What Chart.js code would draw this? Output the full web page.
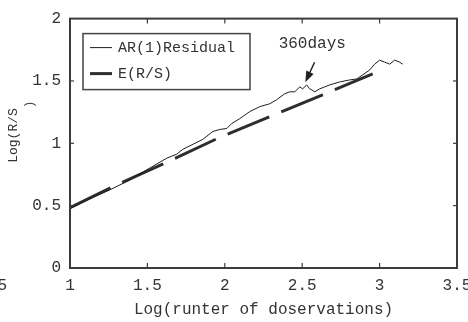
<!DOCTYPE html>
<html>
<head>
<meta charset="utf-8">
<title>Log(R/S)</title>
<script src="https://cdn.jsdelivr.net/npm/chart.js@4.4.1/dist/chart.umd.min.js"></script>
<style>
    body { margin: 0; background: #fff; }
    canvas { display: block; }
</style>
</head>
<body>
<canvas id="rsChart" width="468" height="322"></canvas>
<script>
// Series values
const residualX = [1.000, 1.129, 1.258, 1.387, 1.516, 1.626, 1.690, 1.729, 1.794, 1.858,
    1.923, 1.968, 2.013, 2.045, 2.097, 2.161, 2.226, 2.290, 2.335, 2.387,
    2.419, 2.452, 2.484, 2.503, 2.529, 2.548, 2.561, 2.581, 2.613, 2.645,
    2.677, 2.742, 2.806, 2.852, 2.890, 2.935, 2.968, 3.000, 3.032, 3.065,
    3.097, 3.129, 3.148];
const residualY = [0.476, 0.556, 0.627, 0.706, 0.802, 0.881, 0.913, 0.952, 0.992, 1.032,
    1.095, 1.111, 1.119, 1.159, 1.198, 1.254, 1.294, 1.317, 1.349, 1.397,
    1.413, 1.413, 1.452, 1.437, 1.468, 1.437, 1.429, 1.413, 1.437, 1.452,
    1.468, 1.492, 1.508, 1.516, 1.548, 1.587, 1.635, 1.667, 1.651, 1.635,
    1.667, 1.651, 1.635];
const expectedX = [1.000, 1.290, 1.613, 1.968, 2.323, 2.632, 2.955];
const expectedY = [0.484, 0.659, 0.841, 1.048, 1.230, 1.389, 1.556];

const seriesLabels = ['AR(1)Residual', 'E(R/S)'];
const xTicks = [0.5, 1, 1.5, 2, 2.5, 3, 3.5];
const yTicks = [0, 0.5, 1, 1.5, 2];
const xTitle = 'Log(runter of doservations)';
const yTitle = ['   Log(R/S ', '          )'];
const noteText = '360days';

const toPoints = (xs, ys) => xs.map((x, i) => ({ x: x, y: ys[i] }));

Chart.defaults.font.family = "'Liberation Mono', monospace";
Chart.defaults.color = '#333';

// Frame, inward ticks, legend box and the 360 days note
const decorPlugin = {
    id: 'decor',
    line(ctx, x1, y1, x2, y2) {
        ctx.beginPath();
        ctx.moveTo(x1, y1);
        ctx.lineTo(x2, y2);
        ctx.stroke();
    },
    afterDraw(chart) {
        const { ctx, chartArea: a, scales: { x, y } } = chart;
        ctx.save();

        ctx.strokeStyle = '#3c3c3c';
        ctx.lineWidth = 2;
        ctx.strokeRect(a.left, a.top, a.right - a.left, a.bottom - a.top);

        ctx.lineWidth = 1.2;
        x.ticks.forEach(t => {
            if (t.value <= x.min || t.value >= x.max) return;
            const px = x.getPixelForValue(t.value);
            this.line(ctx, px, a.bottom, px, a.bottom - 5);
            this.line(ctx, px, a.top, px, a.top + 5);
        });
        y.ticks.forEach(t => {
            if (t.value <= y.min || t.value >= y.max) return;
            const py = y.getPixelForValue(t.value);
            this.line(ctx, a.left, py, a.left + 4, py);
            this.line(ctx, a.right, py, a.right - 4, py);
        });

        // Legend
        const lx = a.left + 13, ly = a.top + 15;
        ctx.lineWidth = 1.5;
        ctx.strokeStyle = '#444';
        ctx.strokeRect(lx, ly, 167, 56);
        ctx.font = "15px 'Liberation Mono', monospace";
        ctx.fillStyle = '#333';
        ctx.textBaseline = 'middle';
        chart.data.datasets.forEach((ds, i) => {
            const rowY = ly + 14 + i * 26;
            ctx.strokeStyle = ds.borderColor;
            ctx.lineWidth = ds.borderWidth;
            this.line(ctx, lx + 7, rowY, lx + 29, rowY);
            ctx.fillText(ds.label, lx + 35, rowY);
        });

        // Note and arrow
        const tx = x.getPixelForValue(2.565), ty = y.getPixelForValue(1.8);
        ctx.font = "16px 'Liberation Mono', monospace";
        ctx.textAlign = 'center';
        ctx.fillText(noteText, tx, ty);

        const ax1 = x.getPixelForValue(2.58), ay1 = y.getPixelForValue(1.65);
        const ax2 = x.getPixelForValue(2.52), ay2 = y.getPixelForValue(1.49);
        const ang = Math.atan2(ay2 - ay1, ax2 - ax1);
        ctx.strokeStyle = '#222';
        ctx.fillStyle = '#222';
        ctx.lineWidth = 1.5;
        this.line(ctx, ax1, ay1, ax2 - 8 * Math.cos(ang), ay2 - 8 * Math.sin(ang));
        ctx.beginPath();
        ctx.moveTo(ax2, ay2);
        ctx.lineTo(ax2 - 11 * Math.cos(ang) + 4 * Math.sin(ang), ay2 - 11 * Math.sin(ang) - 4 * Math.cos(ang));
        ctx.lineTo(ax2 - 11 * Math.cos(ang) - 4 * Math.sin(ang), ay2 - 11 * Math.sin(ang) + 4 * Math.cos(ang));
        ctx.closePath();
        ctx.fill();

        ctx.restore();
    }
};

document.addEventListener('DOMContentLoaded', () => {
    new Chart(document.getElementById('rsChart'), {
        type: 'line',
        data: {
            datasets: [
                {
                    label: seriesLabels[0],
                    data: toPoints(residualX, residualY),
                    borderColor: '#1e1e1e',
                    borderWidth: 1,
                    pointRadius: 0,
                    tension: 0
                },
                {
                    label: seriesLabels[1],
                    data: toPoints(expectedX, expectedY),
                    borderColor: '#2e2e2e',
                    borderWidth: 3,
                    borderDash: [45, 13],
                    pointRadius: 0,
                    tension: 0
                }
            ]
        },
        options: {
            responsive: false,
            animation: false,
            layout: { padding: { top: 16, right: 11, left: 0, bottom: 0 } },
            plugins: {
                legend: { display: false },
                tooltip: { enabled: false }
            },
            scales: {
                x: {
                    type: 'linear',
                    min: 1,
                    max: 3.5,
                    grid: { display: false, drawTicks: false },
                    border: { display: false },
                    afterBuildTicks: s => { s.ticks = xTicks.map(v => ({ value: v })); },
                    afterFit: s => { s.height = 54; s.paddingLeft = 0; s.paddingRight = 0; },
                    ticks: { autoSkip: false, maxRotation: 0, padding: 8, font: { size: 16 }, callback: v => String(v) },
                    title: { display: true, text: xTitle, font: { size: 16 }, padding: { top: 0, bottom: 3 } }
                },
                y: {
                    min: 0,
                    max: 2,
                    grid: { display: false, drawTicks: false },
                    border: { display: false },
                    afterBuildTicks: s => { s.ticks = yTicks.map(v => ({ value: v })); },
                    afterFit: s => { s.width = 70; },
                    ticks: { padding: 9, font: { size: 16 }, callback: v => String(v) },
                    title: { display: true, text: yTitle, font: { size: 13 }, padding: { top: 6, bottom: 0 } }
                }
            }
        },
        plugins: [decorPlugin]
    });
});
</script>
</body>
</html>
